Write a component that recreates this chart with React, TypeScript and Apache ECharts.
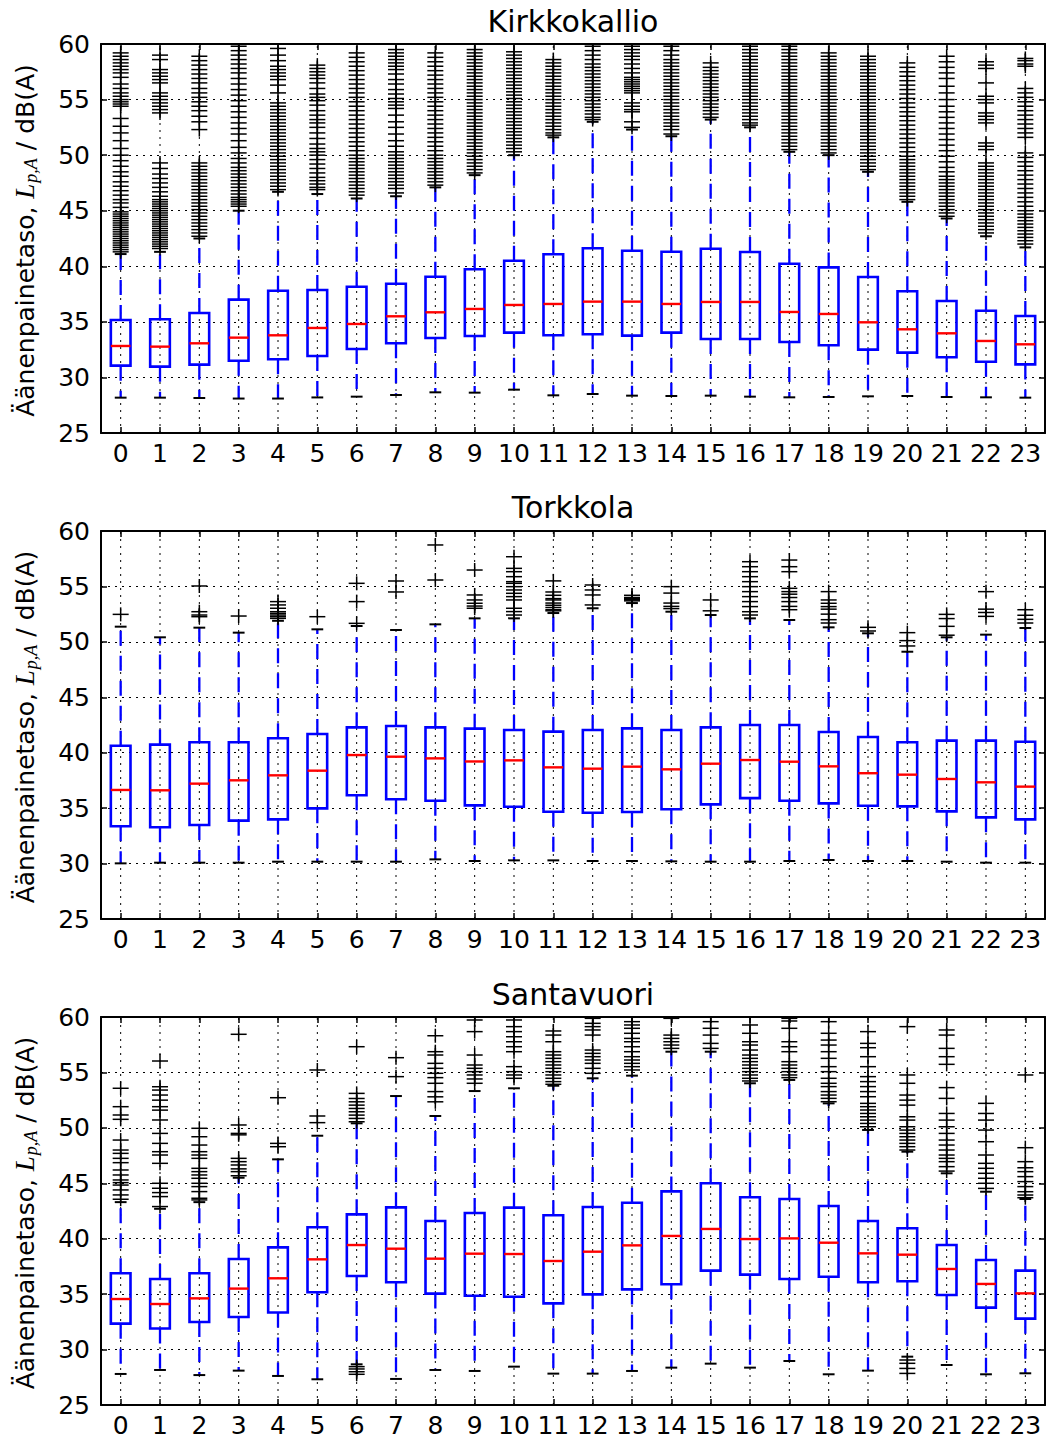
import React, { useEffect, useRef } from 'react';
import * as echarts from 'echarts';

const hours = ['0','1','2','3','4','5','6','7','8','9','10','11','12','13','14','15','16','17','18','19','20','21','22','23'];
const yTicks = { min: 25, max: 60, step: 5 };

// ---------- Kirkkokallio ----------
const kirkLow = [28.18,28.18,28.15,28.1,28.1,28.2,28.27,28.42,28.66,28.63,28.9,28.39,28.51,28.36,28.33,28.36,28.27,28.21,28.24,28.3,28.33,28.24,28.21,28.18];
const kirkQ1 = [31.06,30.97,31.15,31.5,31.63,31.93,32.56,33.07,33.55,33.73,34.03,33.79,33.88,33.76,34.03,33.46,33.46,33.19,32.89,32.5,32.23,31.81,31.41,31.17];
const kirkMed = [32.83,32.77,33.07,33.58,33.79,34.45,34.81,35.5,35.86,36.16,36.52,36.61,36.82,36.82,36.61,36.79,36.79,35.89,35.71,34.96,34.33,33.97,33.28,32.98];
const kirkQ3 = [35.17,35.23,35.8,37.0,37.8,37.87,38.16,38.43,39.06,39.73,40.5,41.08,41.62,41.4,41.31,41.58,41.28,40.23,39.9,39.04,37.75,36.88,36.0,35.53];
const kirkHigh = [41.1,41.3,42.5,45.0,46.7,46.5,46.1,46.3,47.1,48.2,50.0,51.6,53.0,52.3,51.7,53.2,52.5,50.3,50.0,48.5,45.8,44.3,42.7,41.7];
const kirkOut = [
  [59.2,58.9,58.6,58.3,58.0,57.7,57.4,57.0,56.4,56.0,55.6,55.3,55.0,54.8,54.6,54.4,53.3,52.6,52.0,51.3,50.6,50.0,49.5,49.0,48.5,48.1,47.6,47.2,46.8,46.4,46.0,45.7,45.3,44.9,44.7,44.5,44.3,44.1,43.9,43.7,43.5,43.3,43.1,42.9,42.7,42.5,42.3,42.1,41.9,41.7,41.5,41.3],
  [59.0,58.6,57.7,57.4,57.1,56.8,56.5,55.6,55.3,55.0,54.7,54.4,54.1,53.8,49.3,48.8,48.3,47.9,47.5,47.1,46.7,46.3,46.0,45.8,45.6,45.4,45.2,45.0,44.8,44.6,44.4,44.2,44.0,43.8,43.6,43.4,43.2,43.0,42.8,42.6,42.4,42.2,42.0,41.8,41.6],
  [58.9,58.5,58.1,57.7,57.3,56.9,56.5,56.0,55.6,55.2,54.8,54.4,54.0,53.5,53.0,52.3,49.3,49.0,48.7,48.4,48.1,47.8,47.5,47.2,46.9,46.6,46.3,46.0,45.7,45.4,45.1,44.8,44.5,44.2,43.9,43.6,43.3,43.0,42.7],
  [59.8,59.4,59.0,58.6,58.2,57.8,57.4,56.9,56.4,55.9,55.4,54.9,54.4,53.9,53.4,52.9,52.4,51.9,51.3,50.7,50.2,49.7,49.3,48.9,48.6,48.3,48.0,47.7,47.4,47.1,46.8,46.5,46.2,46.0,45.8,45.6,45.4],
  [59.6,59.0,58.5,58.0,57.7,57.4,57.1,56.8,56.3,55.6,54.7,54.4,54.1,53.8,53.5,53.2,52.9,52.6,52.3,52.0,51.7,51.4,51.1,50.8,50.5,50.2,49.9,49.6,49.3,49.0,48.7,48.4,48.1,47.8,47.5,47.2,46.9],
  [58.1,57.8,57.5,57.2,56.9,56.5,56.0,55.5,55.2,54.9,54.5,54.0,53.6,53.2,52.9,52.5,52.0,51.5,51.0,50.6,50.3,50.0,49.6,49.2,48.8,48.4,48.0,47.7,47.4,47.1,46.9],
  [59.2,58.8,58.4,58.0,57.6,57.2,56.8,56.4,56.0,55.6,55.2,54.8,54.4,54.0,53.6,53.2,52.8,52.4,52.0,51.6,51.2,50.8,50.4,50.0,49.7,49.4,49.1,48.8,48.5,48.2,47.9,47.6,47.3,47.0,46.7,46.4],
  [59.5,59.2,58.9,58.6,58.3,58.0,57.7,57.3,56.8,56.4,55.9,55.5,55.1,54.8,54.5,54.2,53.6,53.0,52.5,51.9,51.3,50.8,50.3,50.0,49.7,49.4,49.1,48.8,48.5,48.2,47.9,47.6,47.3,47.0,46.6],
  [59.2,58.8,58.4,58.0,57.6,57.2,56.8,56.4,56.0,55.6,55.2,54.8,54.4,54.0,53.6,53.2,52.8,52.4,52.0,51.6,51.2,50.8,50.4,50.0,49.7,49.4,49.1,48.8,48.5,48.2,47.9,47.6,47.3],
  [59.5,59.2,58.9,58.6,58.3,58.0,57.7,57.4,57.1,56.8,56.5,56.2,55.9,55.6,55.3,55.0,54.7,54.4,54.1,53.8,53.5,53.2,52.9,52.6,52.3,52.0,51.7,51.4,51.1,50.8,50.5,50.2,49.9,49.6,49.3,49.0,48.7,48.4],
  [59.3,59.0,58.7,58.4,58.1,57.8,57.5,57.2,56.9,56.6,56.3,56.0,55.7,55.4,55.1,54.8,54.5,54.2,53.9,53.6,53.3,53.0,52.7,52.4,52.1,51.8,51.5,51.2,50.9,50.6,50.3],
  [58.6,58.3,58.0,57.7,57.4,57.1,56.8,56.5,56.2,55.9,55.6,55.3,55.0,54.7,54.4,54.1,53.8,53.5,53.2,52.9,52.6,52.3,52.0,51.8],
  [59.8,59.4,59.0,58.6,58.2,57.9,57.6,57.3,57.0,56.7,56.4,56.1,55.8,55.5,55.2,54.9,54.6,54.3,54.0,53.7,53.4,53.2],
  [59.8,59.5,59.2,58.9,58.6,58.2,57.8,57.4,57.0,56.8,56.6,56.4,56.2,56.0,55.8,55.6,54.7,54.4,54.1,53.9,53.0,52.5],
  [59.8,59.4,59.0,58.6,58.3,58.0,57.7,57.4,57.1,56.8,56.5,56.2,55.9,55.6,55.3,55.0,54.7,54.4,54.1,53.8,53.5,53.2,52.9,52.6,52.3,51.9],
  [58.3,57.9,57.6,57.3,57.0,56.7,56.4,56.1,55.8,55.5,55.2,54.9,54.6,54.3,54.0,53.7,53.4],
  [59.8,59.5,59.2,58.9,58.6,58.3,58.0,57.7,57.4,57.1,56.8,56.5,56.2,55.9,55.6,55.3,55.0,54.7,54.4,54.1,53.8,53.5,53.2,52.9,52.7],
  [59.8,59.5,59.2,58.9,58.6,58.3,58.0,57.7,57.4,57.1,56.8,56.5,56.2,55.9,55.6,55.3,55.0,54.7,54.4,54.1,53.8,53.5,53.2,52.9,52.6,52.3,52.0,51.7,51.4,51.1,50.8,50.5],
  [59.2,58.9,58.6,58.3,58.0,57.7,57.4,57.1,56.8,56.5,56.2,55.9,55.6,55.3,55.0,54.7,54.4,54.1,53.8,53.5,53.2,52.9,52.6,52.3,52.0,51.7,51.4,51.1,50.8,50.5,50.2],
  [58.9,58.6,58.3,58.0,57.7,57.4,57.1,56.8,56.5,56.2,55.9,55.6,55.3,55.0,54.7,54.4,54.1,53.8,53.5,53.2,52.9,52.6,52.3,52.0,51.7,51.4,51.1,50.8,50.5,50.2,49.9,49.6,49.3,49.0,48.7],
  [58.3,57.9,57.5,57.1,56.7,56.3,55.9,55.5,55.1,54.7,54.3,53.9,53.5,53.1,52.7,52.3,51.9,51.5,51.1,50.7,50.3,49.9,49.6,49.3,49.0,48.7,48.4,48.1,47.8,47.5,47.2,46.9,46.6,46.3,46.0],
  [58.9,58.4,57.9,57.4,56.9,56.2,55.6,55.0,54.4,53.9,53.4,52.9,52.4,51.9,51.4,50.9,50.4,49.9,49.4,48.9,48.5,48.1,47.8,47.5,47.2,46.9,46.6,46.3,46.0,45.7,45.4,45.1,44.8,44.5],
  [58.4,58.1,57.8,56.5,55.3,55.0,54.7,53.8,53.5,53.2,52.9,51.1,50.8,50.5,49.3,49.0,48.7,48.4,48.1,47.8,47.5,47.2,46.9,46.6,46.3,46.0,45.7,45.4,45.1,44.8,44.5,44.2,43.9,43.6,43.3,43.0],
  [58.7,58.5,58.2,58.0,56.0,55.6,55.2,54.8,54.4,54.0,53.6,53.2,52.8,52.4,52.0,51.6,50.2,49.8,49.4,49.0,48.6,48.2,47.8,47.4,47.0,46.6,46.2,45.8,45.4,45.0,44.7,44.4,44.1,43.8,43.5,43.2,42.9,42.6,42.3,42.0]
];

// ---------- Torkkola ----------
const torkLow = [30.02,30.08,30.08,30.08,30.17,30.17,30.17,30.17,30.38,30.23,30.29,30.29,30.23,30.23,30.2,30.17,30.17,30.23,30.32,30.23,30.23,30.17,30.08,30.08];
const torkQ1 = [33.36,33.27,33.48,33.87,33.99,34.98,36.16,35.8,35.67,35.25,35.13,34.68,34.59,34.65,34.9,35.34,35.9,35.67,35.43,35.22,35.16,34.71,34.17,33.99];
const torkMed = [36.64,36.61,37.21,37.51,37.96,38.38,39.79,39.64,39.49,39.21,39.31,38.68,38.56,38.74,38.5,39.01,39.34,39.19,38.77,38.15,38.02,37.63,37.33,36.94];
const torkQ3 = [40.63,40.73,40.94,40.94,41.3,41.69,42.29,42.41,42.29,42.17,42.05,41.9,42.05,42.2,42.05,42.29,42.5,42.5,41.87,41.42,40.94,41.09,41.09,40.99];
const torkHigh = [51.37,50.41,51.28,50.83,51.9,51.13,51.43,51.07,51.58,52.12,52.12,52.6,53.03,53.5,52.72,52.42,52.12,51.97,51.31,50.77,49.11,50.41,50.65,51.25];
const torkOut = [
  [52.48],
  [],
  [55.04,52.72,52.42,52.27],
  [52.33],
  [53.63,53.33,53.03,52.72,52.57,52.42,52.27,52.12],
  [52.27],
  [55.28,53.63,51.67],
  [55.49,54.5],
  [58.74,55.58],
  [56.48,54.23,53.78,53.48,53.23,53.03],
  [57.68,56.63,56.33,55.88,55.43,55.28,54.98,54.68,54.38,54.08,53.78,53.03,52.73,52.42],
  [55.5,54.5,54.2,53.9,53.78,53.5,53.3,53.1,52.9,52.8],
  [55.13,54.68,54.23,53.33],
  [54.2,54.0,53.9,53.8,53.7],
  [54.98,54.4,53.5,53.2,53.0],
  [53.78,52.8],
  [57.23,56.78,56.33,55.88,55.43,54.98,54.53,54.08,53.63,53.18,52.72,52.42],
  [57.38,56.78,56.33,54.83,54.53,54.3,54.0,53.63,53.2,52.9],
  [54.53,53.78,53.48,53.18,52.95,52.5,52.0,51.7],
  [51.31,50.98],
  [50.83,50.11,49.63],
  [52.48,52.1,51.4,50.6],
  [54.53,52.95,52.65,52.3],
  [52.9,52.4,52.03,51.7]
];

// ---------- Santavuori ----------
const santLow = [27.8,28.16,27.7,28.1,27.62,27.32,28.67,27.35,28.16,28.07,28.46,27.83,27.83,28.07,28.37,28.73,28.37,28.97,27.77,28.1,29.36,28.61,27.77,27.86];
const santQ1 = [32.34,31.9,32.49,32.94,33.35,35.17,36.64,36.07,35.05,34.86,34.77,34.17,34.98,35.43,35.89,37.12,36.76,36.37,36.57,36.07,36.16,34.92,33.78,32.79];
const santMed = [34.56,34.11,34.62,35.5,36.43,38.14,39.43,39.1,38.2,38.65,38.62,37.99,38.83,39.4,40.25,40.88,39.97,40.03,39.64,38.68,38.56,37.27,35.92,35.07];
const santQ3 = [36.88,36.37,36.88,38.17,39.22,41.03,42.2,42.83,41.6,42.32,42.8,42.11,42.86,43.25,44.27,45.0,43.74,43.58,42.95,41.6,40.94,39.43,38.08,37.12];
const santHigh = [43.3,42.7,43.3,45.5,47.16,49.29,50.41,52.87,51.07,53.32,53.57,53.8,54.47,54.71,56.87,56.87,54.02,54.32,52.21,49.81,47.85,45.9,44.24,43.58];
const santOut = [
  [53.57,51.91,51.16,50.77,48.9,48.0,47.7,47.25,46.86,46.2,45.75,45.3,45.06,44.84,44.4,43.95,43.56],
  [56.03,53.71,53.41,52.96,52.5,51.91,51.6,50.71,49.5,48.6,47.85,47.55,46.8,45.0,44.55,44.16,43.8,42.9],
  [49.96,49.2,48.45,47.85,47.55,47.25,46.35,46.05,45.75,45.45,45.0,44.7,44.25,43.65,43.5],
  [58.44,50.26,49.5,49.37,47.25,46.95,46.65,46.3,46.05,45.68],
  [52.72,48.6,48.3],
  [55.22,51.07,50.47],
  [57.32,53.11,52.65,52.35,52.05,51.75,51.45,51.15,50.85,50.55,28.46,28.25,28.0,27.77],
  [56.33,54.62],
  [58.31,56.87,56.57,55.82,55.37,54.92,54.53,54.02,53.27,52.8,52.35],
  [59.73,58.68,56.57,55.67,55.37,55.07,54.77,54.41,54.02],
  [59.73,59.13,58.68,58.22,57.77,57.32,56.87,55.52,55.07,54.77,54.47],
  [58.74,58.37,57.77,56.87,56.57,56.27,55.97,55.67,55.37,55.07,54.77,54.47,54.17,53.93],
  [59.88,59.43,59.13,58.83,58.37,57.02,56.72,56.42,56.12,55.82,55.37,54.92],
  [59.58,59.28,58.98,58.53,58.07,57.77,57.32,56.87,56.42,56.12,55.82,55.52,55.22],
  [59.88,58.37,58.07,57.77,57.47,57.17],
  [59.58,58.98,58.37,57.62,57.17],
  [59.28,58.53,57.77,57.47,57.02,56.57,56.27,55.97,55.67,55.37,55.07,54.77,54.47,54.23],
  [59.88,59.64,58.98,57.77,57.32,56.87,55.97,55.67,55.37,55.07,54.77,54.53],
  [59.58,58.53,57.92,57.47,56.87,56.27,55.52,55.07,54.47,54.02,53.72,53.27,52.96,52.66,52.36],
  [58.68,57.62,57.23,56.42,55.52,54.62,54.17,53.72,53.27,52.81,52.21,51.91,51.61,51.3,51.0,50.7,50.4,50.1],
  [59.13,54.77,54.02,52.96,52.5,52.05,51.0,50.7,50.1,49.8,49.5,49.2,48.9,48.6,48.3,48.0,29.06,28.76,28.3,27.85],
  [58.83,58.37,57.17,56.42,55.73,53.63,52.66,51.3,50.7,50.1,49.5,48.9,48.45,48.0,47.55,47.25,46.95,46.5,46.1],
  [52.21,51.3,50.7,49.8,48.75,47.55,46.8,46.35,45.9,45.45,45.0,44.54],
  [54.77,48.21,46.95,46.4,46.05,45.6,45.15,44.7,44.24,43.94,43.7]
];

const panels = [
  { name: 'Kirkkokallio', low: kirkLow, q1: kirkQ1, med: kirkMed, q3: kirkQ3, high: kirkHigh, out: kirkOut },
  { name: 'Torkkola', low: torkLow, q1: torkQ1, med: torkMed, q3: torkQ3, high: torkHigh, out: torkOut },
  { name: 'Santavuori', low: santLow, q1: santQ1, med: santMed, q3: santQ3, high: santHigh, out: santOut }
];

const FONT = 'DejaVu Sans';
const GRID_LEFT = 101;
const GRID_WIDTH = 944;
const gridTops = [44, 531, 1017];
const gridHeights = [389, 388, 388];
const titleYs = [21, 507.5, 994];
const BLUE = '#0000ff';
const RED = '#ff0000';

function buildOption() {
  const grid: any[] = [];
  const xAxis: any[] = [];
  const yAxis: any[] = [];
  const series: any[] = [];
  const graphic: any[] = [];

  const axisLine = { show: true, lineStyle: { color: '#000', width: 2 } };
  const tick = { show: true, inside: true, length: 6, lineStyle: { color: '#000', width: 1.5 } };

  panels.forEach((p, k) => {
    grid.push({ left: GRID_LEFT, width: GRID_WIDTH, top: gridTops[k], height: gridHeights[k], show: false });
    xAxis.push({
      gridIndex: k, type: 'category', data: hours, position: 'bottom', boundaryGap: true,
      axisLine, axisTick: { ...tick, alignWithLabel: true, interval: 0 },
      axisLabel: { color: '#000', fontSize: 25, fontFamily: FONT, margin: 8, interval: 0 },
      splitLine: { show: false }
    });
    xAxis.push({
      gridIndex: k, type: 'category', data: hours, position: 'top', boundaryGap: true,
      axisLine, axisTick: { ...tick, alignWithLabel: true, interval: 0 },
      axisLabel: { show: false }, splitLine: { show: false }
    });
    yAxis.push({
      gridIndex: k, type: 'value', min: yTicks.min, max: yTicks.max, interval: yTicks.step, position: 'left',
      axisLine, axisTick: tick,
      axisLabel: { color: '#000', fontSize: 25, fontFamily: FONT, margin: 11 },
      splitLine: { show: true, lineStyle: { color: '#000', width: 1, type: [2, 5] } }
    });
    yAxis.push({
      gridIndex: k, type: 'value', min: yTicks.min, max: yTicks.max, interval: yTicks.step, position: 'right',
      axisLine, axisTick: tick, axisLabel: { show: false }, splitLine: { show: false }
    });

    const xi = 2 * k, yi = 2 * k;

    // vertical dotted grid at category centres
    series.push({
      type: 'custom', xAxisIndex: xi, yAxisIndex: yi, z: 1, silent: true,
      data: hours.map((h, i) => [i, yTicks.min, yTicks.max]),
      encode: { x: 0, y: [1, 2] },
      renderItem: (params: any, api: any) => {
        const a = api.coord([api.value(0), api.value(1)]);
        const b = api.coord([api.value(0), api.value(2)]);
        return { type: 'line', shape: { x1: a[0], y1: a[1], x2: b[0], y2: b[1] }, style: { stroke: '#000', lineWidth: 1, lineDash: [2, 5] } };
      }
    });

    // boxes
    series.push({
      type: 'custom', xAxisIndex: xi, yAxisIndex: yi, z: 3, silent: true,
      data: hours.map((h, i) => [i, p.low[i], p.q1[i], p.med[i], p.q3[i], p.high[i]]),
      encode: { x: 0, y: [1, 2, 3, 4, 5] },
      renderItem: (params: any, api: any) => {
        const i = api.value(0);
        const pl = api.coord([i, api.value(1)]);
        const p1 = api.coord([i, api.value(2)]);
        const pm = api.coord([i, api.value(3)]);
        const p3 = api.coord([i, api.value(4)]);
        const ph = api.coord([i, api.value(5)]);
        const band = api.size([1, 0])[0];
        const x = pm[0];
        const hw = band * 0.25;
        const cw = band * 0.15;
        const wStyle = { stroke: BLUE, lineWidth: 2.3, lineDash: [15, 10] };
        const cStyle = { stroke: '#000', lineWidth: 2 };
        return {
          type: 'group',
          children: [
            { type: 'line', shape: { x1: x, y1: p1[1], x2: x, y2: pl[1] }, style: wStyle },
            { type: 'line', shape: { x1: x, y1: p3[1], x2: x, y2: ph[1] }, style: wStyle },
            { type: 'line', shape: { x1: x - cw, y1: pl[1], x2: x + cw, y2: pl[1] }, style: cStyle },
            { type: 'line', shape: { x1: x - cw, y1: ph[1], x2: x + cw, y2: ph[1] }, style: cStyle },
            { type: 'rect', shape: { x: x - hw, y: p3[1], width: 2 * hw, height: p1[1] - p3[1] }, style: { fill: 'none', stroke: BLUE, lineWidth: 2.6 } },
            { type: 'line', shape: { x1: x - hw, y1: pm[1], x2: x + hw, y2: pm[1] }, style: { stroke: RED, lineWidth: 2.4 } }
          ]
        };
      }
    });

    // outliers (+)
    const outData: number[][] = [];
    p.out.forEach((vals, i) => vals.forEach((v) => outData.push([i, v])));
    series.push({
      type: 'custom', xAxisIndex: xi, yAxisIndex: yi, z: 4, silent: true, clip: true,
      data: outData,
      encode: { x: 0, y: 1 },
      renderItem: (params: any, api: any) => {
        const c = api.coord([api.value(0), api.value(1)]);
        const st = { stroke: '#000', lineWidth: 1.5 };
        return {
          type: 'group',
          children: [
            { type: 'line', shape: { x1: c[0] - 8, y1: c[1], x2: c[0] + 8, y2: c[1] }, style: st },
            { type: 'line', shape: { x1: c[0], y1: c[1] - 7, x2: c[0], y2: c[1] + 7 }, style: st }
          ]
        };
      }
    });

    graphic.push({
      type: 'text', x: GRID_LEFT + GRID_WIDTH / 2, y: titleYs[k], silent: true,
      style: { text: p.name, fill: '#000', fontSize: 30, fontFamily: FONT, align: 'center', verticalAlign: 'middle' }
    });
    graphic.push({
      type: 'text', x: 25, y: gridTops[k] + gridHeights[k] / 2 + 2, rotation: Math.PI / 2, silent: true,
      style: {
        text: '{a|Äänenpainetaso, }{l|L}{s|p,A}{a| / dB(A)}',
        fill: '#000', align: 'center', verticalAlign: 'middle',
        rich: {
          a: { fontSize: 25, fontFamily: FONT, fill: '#000' },
          l: { fontSize: 27, fontFamily: 'Liberation Serif', fontStyle: 'italic', fill: '#000' },
          s: { fontSize: 18, fontFamily: 'Liberation Serif', fontStyle: 'italic', fill: '#000', padding: [12, 0, 0, 1] }
        }
      }
    });
  });

  return { animation: false, backgroundColor: '#ffffff', grid, xAxis, yAxis, series, graphic };
}

export default function App() {
  const ref = useRef<HTMLDivElement>(null);
  useEffect(() => {
    if (!ref.current) return;
    const chart = echarts.init(ref.current, undefined, { renderer: 'svg' });
    chart.setOption(buildOption() as any);
    return () => chart.dispose();
  }, []);
  return <div ref={ref} style={{ position: 'absolute', left: 0, top: 0, width: 1046, height: 1439, background: '#fff' }} />;
}
